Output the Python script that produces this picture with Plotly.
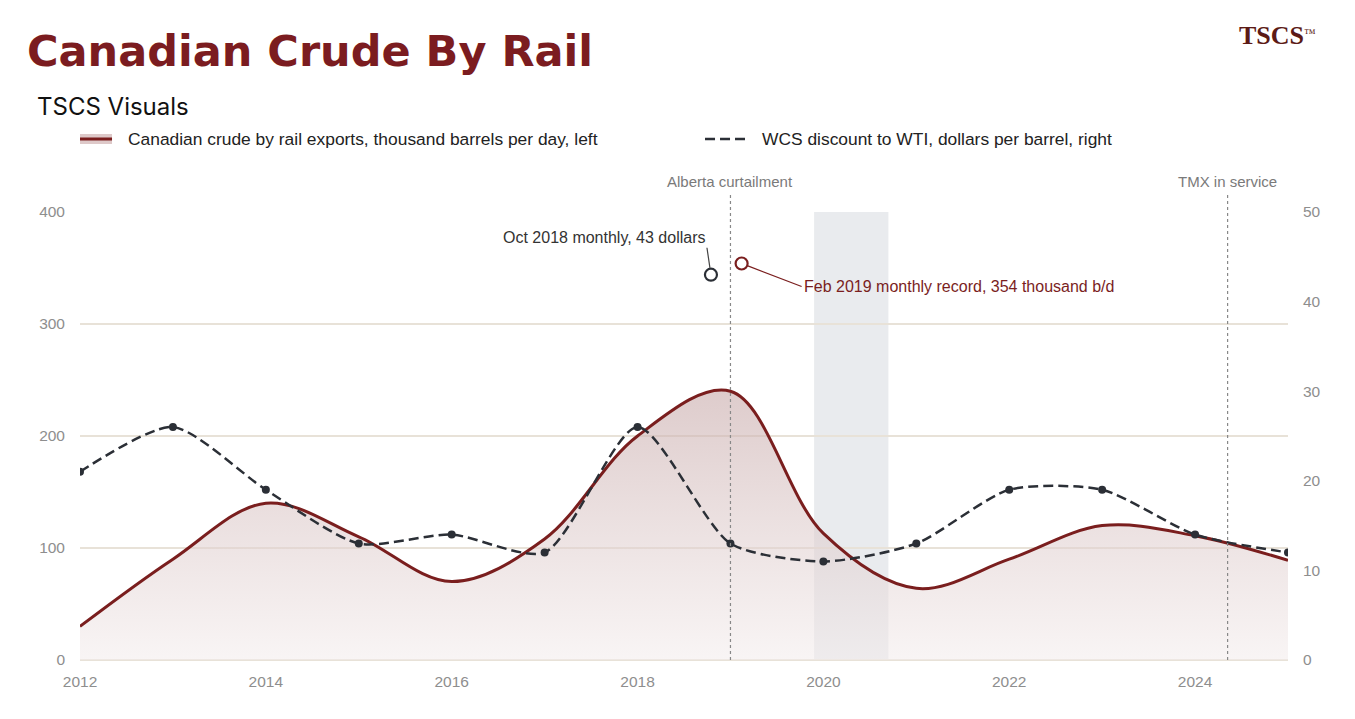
import plotly.graph_objects as go

# annual data
years = [2012, 2013, 2014, 2015, 2016, 2017, 2018, 2019, 2020, 2021, 2022, 2023, 2024, 2025]
rail_exports = [30, 90, 140, 110, 70, 108, 200, 240, 113, 64, 90, 120, 111, 89]
wcs_discount = [21, 26, 19, 13, 14, 12, 26, 13, 11, 13, 19, 19, 14, 12]

# monthly records highlighted with callouts
record_rail_x = [2019.12]   # Feb 2019
record_rail_y = [354]
record_disc_x = [2018.79]   # Oct 2018
record_disc_y = [43]

curtailment_date = 2019.0
tmx_date = 2024.35
covid_start, covid_end = 2019.9, 2020.7

RAIL_NAME = "Canadian crude by rail exports, thousand barrels per day, left"
WCS_NAME = "WCS discount to WTI, dollars per barrel, right"

RED = "#7a1e1e"
DARK = "#2b2f36"
GRAY_TXT = "#8e8e8e"
GRID = "#e8e2d8"

fig = go.Figure()

fig.add_trace(go.Scatter(
    x=years, y=rail_exports, name=RAIL_NAME,
    mode="lines",
    line=dict(color=RED, width=3, shape="spline", smoothing=1.0),
    fill="tozeroy",
    fillgradient=dict(type="vertical", start=0, stop=240,
                      colorscale=[[0, "rgba(243,236,236,0.55)"],
                                  [1, "rgba(200,170,170,0.6)"]]),
))

fig.add_trace(go.Scatter(
    x=years, y=wcs_discount, name=WCS_NAME,
    mode="lines+markers",
    yaxis="y2",
    line=dict(color=DARK, width=2.5, dash="10px,5px", shape="spline", smoothing=0.7),
    marker=dict(color=DARK, size=8),
))

fig.add_trace(go.Scatter(
    x=record_rail_x, y=record_rail_y, mode="markers",
    marker=dict(symbol="circle-open", size=12, color=RED, line=dict(width=2.2, color=RED)),
))
fig.add_trace(go.Scatter(
    x=record_disc_x, y=record_disc_y, mode="markers", yaxis="y2",
    marker=dict(symbol="circle-open", size=12, color=DARK, line=dict(width=2.2, color=DARK)),
))

# covid band
fig.add_shape(type="rect", xref="x", yref="paper", x0=covid_start, x1=covid_end, y0=0, y1=1,
              fillcolor="rgba(215,218,224,0.55)", line_width=0, layer="below")

# event lines
for d, label in [(curtailment_date, "Alberta curtailment"), (tmx_date, "TMX in service")]:
    fig.add_shape(type="line", xref="x", yref="paper", x0=d, x1=d, y0=0, y1=1.04,
                  line=dict(color="#888888", width=1.2, dash="dot"))
    fig.add_annotation(x=d, xref="x", y=1.067, yref="paper", text=label, showarrow=False,
                       yanchor="middle",
                       font=dict(size=15, color="#7a7a7a", family="Liberation Sans"))

# callouts
fig.add_annotation(x=record_disc_x[0], y=record_disc_y[0], yref="y2", xref="x",
                   text="Oct 2018 monthly, 43 dollars", showarrow=True, arrowhead=0,
                   arrowwidth=1.2, arrowcolor="#444", standoff=7, ax=-4, ay=-27,
                   xanchor="right", yanchor="bottom",
                   font=dict(size=16, color="#333", family="Liberation Sans"))
fig.add_annotation(x=record_rail_x[0], y=record_rail_y[0], xref="x", yref="y",
                   text="Feb 2019 monthly record, 354 thousand b/d", showarrow=True, arrowhead=0,
                   arrowwidth=1.2, arrowcolor=RED, standoff=6, ax=60, ay=23,
                   xanchor="left", yanchor="middle",
                   font=dict(size=16, color=RED, family="Liberation Sans"))

# legend drawn by hand so both entries sit on one row
fig.add_shape(type="rect", xref="paper", yref="paper", x0=0, x1=0.0265, y0=1.152, y1=1.174,
              fillcolor="rgba(200,165,165,0.6)", line_width=0)
fig.add_shape(type="line", xref="paper", yref="paper", x0=0, x1=0.0265, y0=1.163, y1=1.163,
              line=dict(color=RED, width=3))
fig.add_annotation(x=0.0381, xref="paper", xanchor="left", y=1.163, yref="paper", yanchor="middle",
                   text=RAIL_NAME, showarrow=False,
                   font=dict(size=17.4, color="#222", family="Liberation Sans"))
fig.add_shape(type="line", xref="paper", yref="paper", x0=0.5174, x1=0.5505, y0=1.163, y1=1.163,
              line=dict(color=DARK, width=2.5, dash="10px,5px"))
fig.add_annotation(x=0.5629, xref="paper", xanchor="left", y=1.163, yref="paper", yanchor="middle",
                   text=WCS_NAME, showarrow=False,
                   font=dict(size=17.4, color="#222", family="Liberation Sans"))

# title block
fig.add_annotation(x=-0.0455, xref="paper", xanchor="left", y=1.36, yref="paper", yanchor="middle",
                   text="<b>Canadian Crude By Rail</b>", showarrow=False,
                   font=dict(size=43, color="#7b1c20", family="DejaVu Sans"))
fig.add_annotation(x=-0.0373, xref="paper", xanchor="left", y=1.2344, yref="paper", yanchor="middle",
                   text="TSCS Visuals", showarrow=False,
                   font=dict(size=24, color="#111", family="Inter"))
fig.add_annotation(x=1.0248, xref="paper", xanchor="right", y=1.394, yref="paper", yanchor="middle",
                   text="<b>TSCS</b><span style='font-size:17px'><sup>™</sup></span>",
                   showarrow=False,
                   font=dict(size=26, color="#5c1a16", family="Liberation Serif"))

fig.update_layout(
    width=1355, height=719,
    margin=dict(l=72, r=75, t=204, b=67),
    paper_bgcolor="white", plot_bgcolor="white",
    font=dict(family="Liberation Sans", color=GRAY_TXT, size=15),
    showlegend=False,
    xaxis=dict(range=[2012, 2025], tickvals=[2012, 2014, 2016, 2018, 2020, 2022, 2024],
               showgrid=False, zeroline=False, showline=False, ticks="",
               tickfont=dict(size=15.5, color=GRAY_TXT), ticklabelstandoff=10),
    yaxis=dict(range=[0, 400], tickvals=[0, 100, 200, 300, 400], showgrid=True,
               gridcolor=GRID, gridwidth=1.5, zeroline=True, zerolinecolor=GRID, zerolinewidth=2,
               tickfont=dict(size=15.5, color=GRAY_TXT), ticklabelstandoff=14),
    yaxis2=dict(range=[0, 50], tickvals=[0, 10, 20, 30, 40, 50], overlaying="y", side="right",
                showgrid=False, zeroline=False,
                tickfont=dict(size=15.5, color=GRAY_TXT), ticklabelstandoff=14),
    hovermode=False,
)

fig.write_html("out.html")
